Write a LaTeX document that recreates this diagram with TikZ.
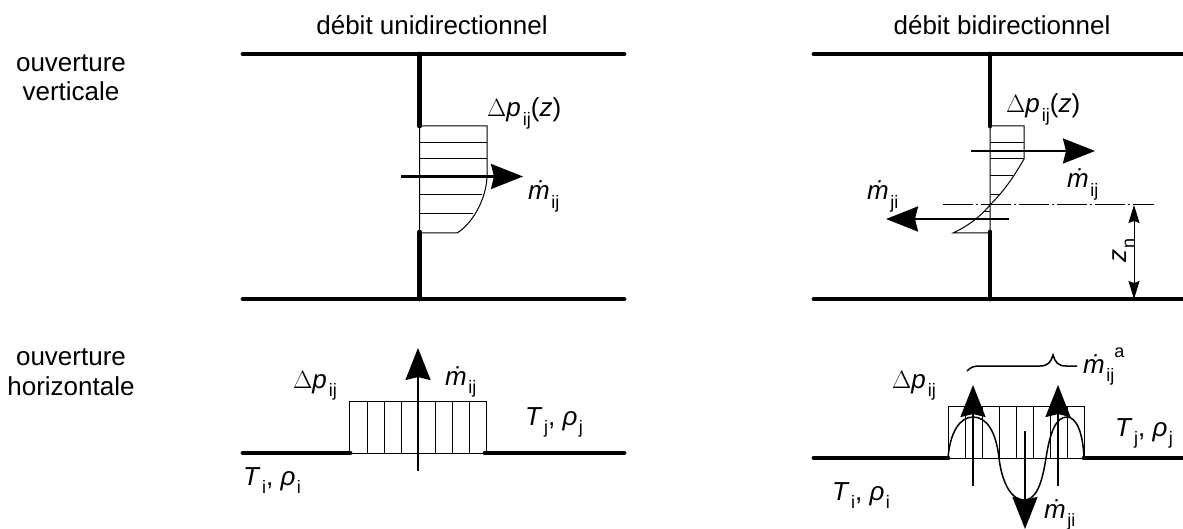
\documentclass[tikz,border=0pt]{standalone}
\usepackage{fontspec}
\setmainfont{Liberation Sans}
\usetikzlibrary{arrows.meta}
\newcommand{\subs}[1]{\raisebox{-0.6ex}{\fontsize{18}{18}\selectfont #1}}
\newcommand{\mdot}[1]{\textit{\.m}\kern1.5pt\subs{#1}}
\newcommand{\dptext}{$\Delta$\textit{p}\kern2pt\subs{ij}}
\newcommand{\Trho}[1]{\textit{T}\kern1.5pt\subs{#1}, \textit{ρ}\kern1.5pt\subs{#1}}
\begin{document}
\begin{tikzpicture}[
    x=1pt, y=-1pt,
    wall/.style={line width=4.8pt, line cap=round},
    profile/.style={line width=1pt},
    flow/.style={line width=2.5pt, -{Stealth[length=32pt, width=25pt, inset=3pt]}},
    dimline/.style={line width=1pt, {Stealth[length=18pt, width=11pt, inset=2pt]}-{Stealth[length=18pt, width=11pt, inset=2pt]}},
    label/.style={inner sep=0pt, anchor=base west, font=\fontsize{26}{30}\selectfont},
    head/.style={inner sep=0pt, anchor=base, font=\fontsize{26}{29.5}\selectfont, align=center},
]
    \useasboundingbox (0,0) rectangle (1183,529);

    % Headings
    \node[head] (uni) at (432,35) {débit unidirectionnel};
    \node[head] (bi) at (1002,35) {débit bidirectionnel};
    \node[head] (vert) at (71,101) {ouverture\\verticale};
    \node[head] (horiz) at (71,395) {ouverture\\horizontale};

    % Vertical opening, one-way flow
    \draw[wall] (243,54) -- (624,54);
    \draw[wall] (243,299) -- (624,299);
    \draw[wall] (419.5,54) -- (419.5,126);
    \draw[wall] (419.5,232) -- (419.5,299);
    \draw[profile] (419.5,126) -- (487,126) -- (487,177) .. controls (486,200) and (472,224) .. (457,233) -- (419.5,233) -- cycle;
    \draw[profile] (419.5,143) -- (487,143) (419.5,159) -- (487,159) (419.5,195) -- (482,195) (419.5,214) -- (473,214);
    \draw[flow] (401,176.5) -- (523,176.5);
    \node[label] (dpuni) at (487,117) {\dptext(\textit{z})};
    \node[label] (muni) at (528,200) {\mdot{ij}};

    % Vertical opening, two-way flow
    \draw[wall] (814,54) -- (1183,54);
    \draw[wall] (814,299) -- (1183,299);
    \draw[wall] (990,54) -- (990,126);
    \draw[wall] (990,232) -- (990,299);
    \draw[profile] (990,126) -- (1024,126) -- (1024,159) .. controls (1012,180) and (1002,193) .. (990,205) .. controls (980,217) and (968,226) .. (953,233) -- (990,233) -- cycle;
    \draw[profile] (990,143) -- (1024,143) (990,159) -- (1024,159) (990,176) -- (1013,176) (990,195) -- (1000,195) (984,212) -- (990,212);
    \draw[profile, dash pattern=on 30pt off 3pt on 2pt off 3pt] (943,205) -- (1154,205);
    \draw[flow] (971,151) -- (1095,151);
    \draw[flow] (1009,219) -- (886,219);
    \draw[dimline] (1134,205) -- (1134,299);
    \node[label, rotate=90] (zn) at (1126,263) {\textit{z}\kern1pt\subs{n}};
    \node[label] (dpbi) at (1006,113) {\dptext(\textit{z})};
    \node[label] (mijbi) at (1067,188) {\mdot{ij}};
    \node[label] (mjibi) at (867,200) {\mdot{ji}};

    % Horizontal opening, one-way flow
    \draw[wall] (243,453) -- (350,453);
    \draw[wall] (485,453) -- (624,453);
    \draw[profile] (349,453) rectangle (486,401);
    \draw[profile] (367,401) -- (367,453) (384,401) -- (384,453) (401,401) -- (401,453) (435,401) -- (435,453) (452,401) -- (452,453) (469,401) -- (469,453);
    \draw[flow] (418,471) -- (418,348);
    \node[label] (dphuni) at (293,388) {\dptext};
    \node[label] (mhuni) at (445,385) {\mdot{ij}};
    \node[label] (tjuni) at (525,425) {\Trho{j}};
    \node[label] (tiuni) at (243,485) {\Trho{i}};

    % Horizontal opening, two-way flow
    \draw[wall] (814,458) -- (948,458);
    \draw[wall] (1084,458) -- (1183,458);
    \draw[profile] (948,458) rectangle (1084,406);
    \draw[profile] (965,406) -- (965,458) (982,406) -- (982,458) (999,406) -- (999,458) (1016,406) -- (1016,458) (1033,406) -- (1033,458) (1050,406) -- (1050,458) (1067,406) -- (1067,458);
    \draw[line width=1.5pt] (948,458) .. controls (950,432) and (960,417) .. (973,417) .. controls (987,417) and (996,432) .. (999,458) .. controls (1002,484) and (1012,500) .. (1024,500) .. controls (1036,500) and (1042,484) .. (1046,458) .. controls (1050,432) and (1056,417) .. (1067,417) .. controls (1076,417) and (1083,432) .. (1084,458);
    \draw[flow] (973,486) -- (973,385);
    \draw[flow] (1058,486) -- (1058,385);
    \draw[flow] (1025,431) -- (1025,529);
    \draw[line width=1.5pt] (967,371) .. controls (971,367) and (974,366) .. (980,366) -- (1040,366) .. controls (1048,366) and (1051,362) .. (1053,355) .. controls (1055,362) and (1058,366) .. (1066,366) -- (1077,366);
    \node[label] (dphbi) at (892,388) {\dptext};
    \node[label] (mhij) at (1083,373) {\mdot{ij}\raisebox{1.1ex}{\fontsize{18}{18}\selectfont a}};
    \node[label] (tjbi) at (1115,436) {\Trho{j}};
    \node[label] (tibi) at (832,500) {\Trho{i}};
    \node[label] (mhji) at (1044,518) {\mdot{ji}};
\end{tikzpicture}
\end{document}
